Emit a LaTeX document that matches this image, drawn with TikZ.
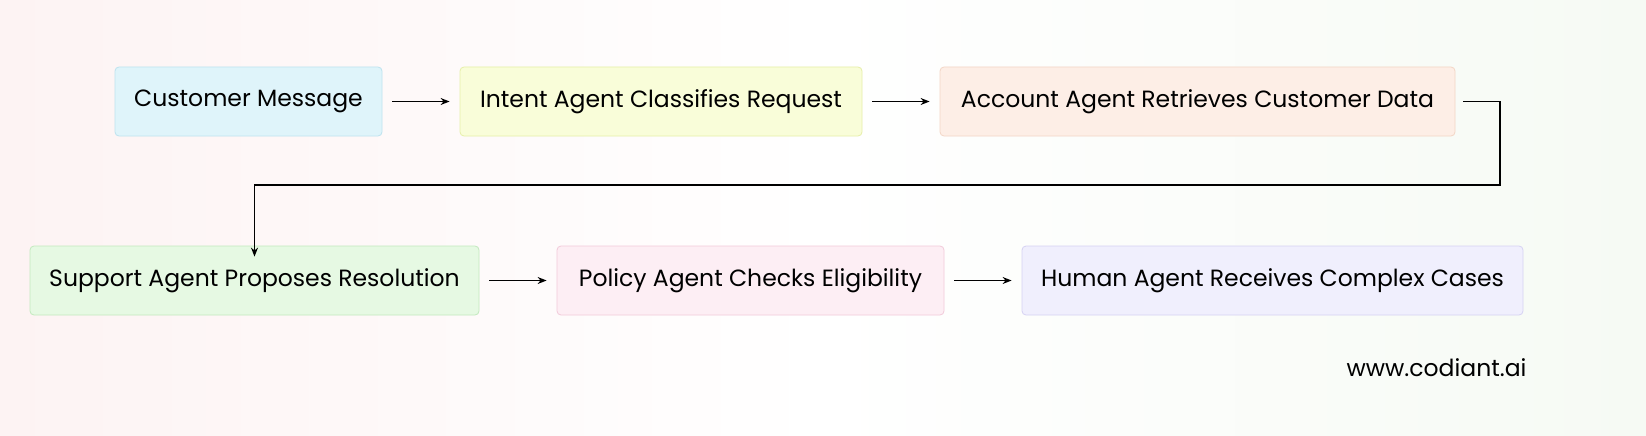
\documentclass[tikz,border=0pt]{standalone}
\usepackage{fontspec}
\setmainfont{Poppins}
\usetikzlibrary{arrows.meta}
\definecolor{bA}{HTML}{DFF4FA}\definecolor{dA}{HTML}{BDE3EF}
\definecolor{bB}{HTML}{F9FDD9}\definecolor{dB}{HTML}{E6EFA8}
\definecolor{bC}{HTML}{FDEEE6}\definecolor{dC}{HTML}{F3D6C6}
\definecolor{bD}{HTML}{E6F9E3}\definecolor{dD}{HTML}{C2E9BE}
\definecolor{bE}{HTML}{FDEEF4}\definecolor{dE}{HTML}{F2CADA}
\definecolor{bF}{HTML}{F0EFFD}\definecolor{dF}{HTML}{D6D2F3}
\definecolor{bgL}{HTML}{FDF3F3}\definecolor{bgR}{HTML}{F6FAF4}
\tikzset{box/.style={rounded corners=4pt,line width=0.8pt,minimum height=69pt,inner xsep=0pt,font=\fontsize{23.5}{28}\selectfont,text=black},
arr/.style={-{Stealth[length=9pt,width=7pt]},line width=1.2pt}}
\begin{document}
\begin{tikzpicture}[x=1pt,y=-1pt]
\shade[left color=bgL,right color=bgR,middle color=white] (0,0) rectangle (1646,436);
\useasboundingbox (0,0) rectangle (1646,436);
\node[box,fill=bA,draw=dA,minimum width=267pt] (a) at (248.5,101.5) {Customer Message};
\node[box,fill=bB,draw=dB,minimum width=402pt] (b) at (661,101.5) {Intent Agent Classifies Request};
\node[box,fill=bC,draw=dC,minimum width=515pt] (c) at (1197.5,101.5) {Account Agent Retrieves Customer Data};
\node[box,fill=bD,draw=dD,minimum width=449pt] (d) at (254.5,280.5) {Support Agent Proposes Resolution};
\node[box,fill=bE,draw=dE,minimum width=387pt] (e) at (750.5,280.5) {Policy Agent Checks Eligibility};
\node[box,fill=bF,draw=dF,minimum width=501pt] (f) at (1272.5,280.5) {Human Agent Receives Complex Cases};
\draw[arr] ([xshift=10pt]a.east) -- ([xshift=-10pt]b.west);
\draw[arr] ([xshift=10pt]b.east) -- ([xshift=-10pt]c.west);
\draw[arr] ([xshift=8pt]c.east) -| (1500,185) -| ([yshift=-11pt]d.north);
\draw[arr] ([xshift=10pt]d.east) -- ([xshift=-10pt]e.west);
\draw[arr] ([xshift=10pt]e.east) -- ([xshift=-10pt]f.west);
\node[font=\fontsize{23.5}{28}\selectfont,anchor=east] (w) at (1530,368) {www.codiant.ai};
\end{tikzpicture}
\end{document}
